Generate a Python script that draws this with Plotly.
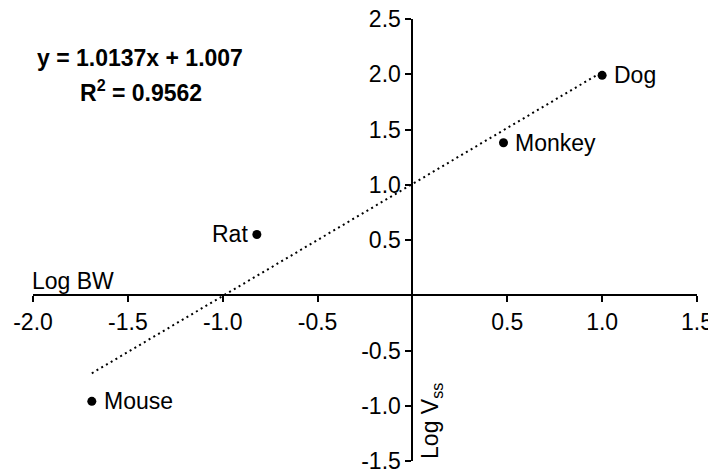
import plotly.graph_objects as go

# Data (log body weight vs log Vss)
species = ["Mouse", "Rat", "Monkey", "Dog"]
log_bw = [-1.69, -0.82, 0.48, 1.00]
log_vss = [-0.96, 0.55, 1.38, 1.99]

# Regression (as printed on the chart)
slope = 1.0137
intercept = 1.007
r2 = 0.9562

x_ticks = [-2.0, -1.5, -1.0, -0.5, 0.5, 1.0, 1.5]
y_ticks = [-1.5, -1.0, -0.5, 0.5, 1.0, 1.5, 2.0, 2.5]

FONT = "Liberation Sans, Arial, sans-serif"
FS = 23

# page body has an 8px margin: offset margins so plot area lands where reference has it
W, H = 716, 470
ML, MR, MT, MB = 25, 27, 11, 17
PW, PH = W - ML - MR, H - MT - MB


def px_to_paper(px, py):
    # px, py: pixel position in the 716x470 window
    return ((px - 8 - ML) / PW, 1 - (py - 8 - MT) / PH)


fit_x = [min(log_bw), max(log_bw)]
fit_y = [slope * v + intercept for v in fit_x]

fig = go.Figure()
fig.add_trace(go.Scatter(
    x=fit_x, y=fit_y, mode="lines",
    line=dict(color="black", width=2, dash="2px,3.5px"),
    hoverinfo="skip", showlegend=False))
fig.add_trace(go.Scatter(
    x=log_bw, y=log_vss, mode="markers",
    marker=dict(color="black", size=9),
    showlegend=False))

positions = {"Mouse": "right", "Rat": "left", "Monkey": "right", "Dog": "right"}
for name, xv, yv in zip(species, log_bw, log_vss):
    side = positions[name]
    fig.add_annotation(
        x=xv, y=yv, text=name, showarrow=False,
        xanchor="left" if side == "right" else "right",
        xshift=10 if side == "right" else -7,
        font=dict(family=FONT, size=FS, color="black"))

ex, ey = px_to_paper(140, 58)
fig.add_annotation(
    xref="paper", yref="paper", x=ex, y=ey,
    text=f"<b>y = {slope}x + {intercept}</b>",
    showarrow=False, xanchor="center", yanchor="middle",
    font=dict(family=FONT, size=FS, color="black"))
rx, ry = px_to_paper(141, 91)
fig.add_annotation(
    xref="paper", yref="paper", x=rx, y=ry,
    text=f"<b>R<sup>2</sup> = {r2}</b>",
    showarrow=False, xanchor="center", yanchor="middle",
    font=dict(family=FONT, size=FS, color="black"))

# Axis titles
fig.add_annotation(
    x=-2.0, y=0, text="Log BW", showarrow=False,
    xanchor="left", yanchor="bottom", xshift=-3, yshift=-1,
    font=dict(family=FONT, size=FS, color="black"))
fig.add_annotation(
    x=0, y=-1.5, text="Log V<sub>ss</sub>", showarrow=False,
    textangle=-90, xanchor="left", yanchor="bottom", xshift=2,
    font=dict(family=FONT, size=FS, color="black"))

axis_common = dict(
    showgrid=False, zeroline=False, showline=True,
    linecolor="black", linewidth=2,
    ticks="outside", ticklen=6, tickwidth=2, tickcolor="black",
    ticklabeloverflow="allow",
    tickfont=dict(family=FONT, size=FS, color="black"))

fig.update_layout(
    width=W, height=H,
    margin=dict(l=ML, r=MR, t=MT, b=MB, autoexpand=False),
    paper_bgcolor="white", plot_bgcolor="white",
    font=dict(family=FONT, size=FS, color="black"),
    xaxis=dict(
        range=[-2.0, 1.5], anchor="free", position=1.5 / 4.0,
        tickvals=x_ticks, ticktext=[f"{v:.1f}" for v in x_ticks],
        **axis_common),
    yaxis=dict(
        range=[-1.5, 2.5], anchor="free", position=2.0 / 3.5,
        tickvals=y_ticks, ticktext=[f"{v:.1f}" for v in y_ticks],
        **axis_common),
)

fig.write_html("out.html")
